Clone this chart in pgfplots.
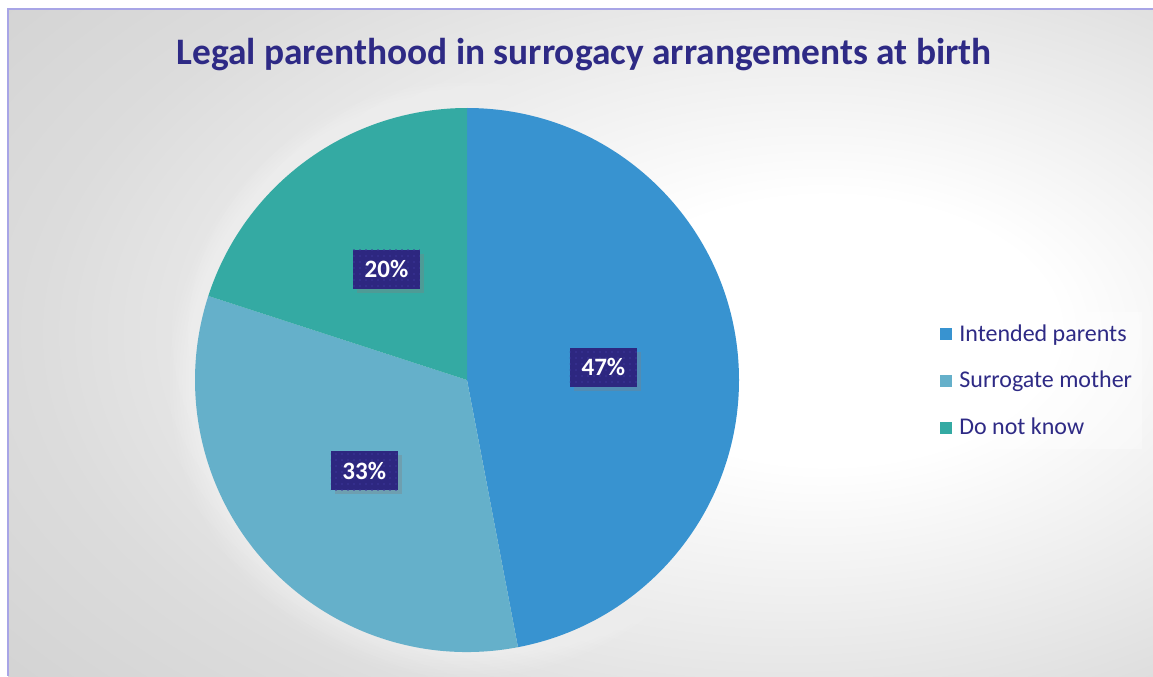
\documentclass[border=0pt]{standalone}
\usepackage{fontspec}
\setmainfont{Carlito}
\usepackage{pgfplots}
\usepackage{pgfplotstable}
\pgfplotsset{compat=1.18}
\usetikzlibrary{shadows,patterns.meta}

\definecolor{ipcol}{HTML}{3893D0}
\definecolor{smcol}{HTML}{65B0CA}
\definecolor{dkcol}{HTML}{34AAA3}
\definecolor{navy}{HTML}{2E2A85}
\definecolor{lblbox}{HTML}{2D2780}
\definecolor{lbldot}{HTML}{3C379A}
\definecolor{framecol}{HTML}{A8A5E6}
\definecolor{bgmid}{HTML}{DCDCDC}
\definecolor{bggray}{HTML}{C4C4C4}
\colorlet{slice0}{ipcol}
\colorlet{slice1}{smcol}
\colorlet{slice2}{dkcol}

\pgfdeclareradialshading{bgshade}{\pgfpoint{12bp}{1bp}}{%
  color(0bp)=(white); color(10bp)=(white); color(32bp)=(bgmid);
  color(58bp)=(bggray); color(100bp)=(bggray)}

% share of each answer, in percent
\pgfplotstableread{
label value
{Intended parents} 47
{Surrogate mother} 33
{Do not know} 20
}\piedata

\begin{document}
\begin{tikzpicture}[x=0.5pt,y=0.5pt]
\useasboundingbox (0,0) rectangle (1153,676);
% background panel
\shade[shading=bgshade] (8,0) rectangle (1153,667);
\draw[framecol, line width=1pt] (8,0) -- (8,667) -- (1153,667);
\node[font=\fontsize{18.7}{21}\selectfont\bfseries, text=navy, anchor=base] at (584,611)
  {Legal parenthood in surrogacy arrangements at birth};

\begin{axis}[
    at={(0,0)}, anchor=south west,
    x=0.5pt, y=0.5pt,
    xmin=0, xmax=1153, ymin=0, ymax=676,
    hide axis, clip=false,
    legend style={
        at={(axis cs:934,364)}, anchor=north west,
        draw=none, fill=white, fill opacity=0.35, text opacity=1,
        font=\fontsize{12}{14}\selectfont, text=navy,
        row sep=9.5pt, inner xsep=3pt, inner ysep=4pt,
        cells={anchor=west},
    },
    legend image code/.code={\fill[#1, fill opacity=1, draw=none] (0pt,-3pt) rectangle (6pt,3pt);},
]
\addlegendimage{fill=ipcol}
\addlegendentry{\hspace{1.5pt}Intended parents}
\addlegendimage{fill=smcol}
\addlegendentry{\hspace{1.5pt}Surrogate mother}
\addlegendimage{fill=dkcol}
\addlegendentry{\hspace{1.5pt}Do not know}

\pgfplotsextra{
  % faint white glow round the pie
  \foreach \k in {1,...,8} {
    \fill[white, opacity=0.05] (axis cs:467,296) circle[radius=136pt+\k*1.6pt];
  }
  \xdef\cum{0}
  \foreach \i in {0,1,2} {
    \pgfplotstablegetelem{\i}{value}\of\piedata
    \pgfmathsetmacro\va{\pgfplotsretval}
    \pgfmathsetmacro\aa{90-3.6*\cum}
    \pgfmathsetmacro\ab{90-3.6*(\cum+\va)}
    \fill[slice\i] (axis cs:467,296) -- ++(\aa:136pt)
      arc[start angle=\aa, end angle=\ab, radius=136pt] -- cycle;
    \pgfmathsetmacro\newcum{\cum+\va}
    \xdef\cum{\newcum}
  }
  \xdef\cum{0}
  \foreach \i in {0,1,2} {
    \pgfplotstablegetelem{\i}{value}\of\piedata
    \pgfmathsetmacro\va{\pgfplotsretval}
    \pgfmathsetmacro\am{90-3.6*(\cum+\va/2)}
    \pgfmathtruncatemacro\vi{\va}
    \path (axis cs:467,296) ++(\am:68.5pt) node[
        fill=lblbox, minimum width=33.5pt, minimum height=19.5pt, inner sep=0pt,
        drop shadow={opacity=0.35, shadow xshift=2pt, shadow yshift=-2pt},
        postaction={pattern={Dots[radius=0.45pt, distance=3pt]}, pattern color=lbldot},
        text=white, font=\fontsize{12.5}{14}\selectfont\bfseries]
      {\vi\%};
    \pgfmathsetmacro\newcum{\cum+\va}
    \xdef\cum{\newcum}
  }
}
\end{axis}
\end{tikzpicture}
\end{document}
